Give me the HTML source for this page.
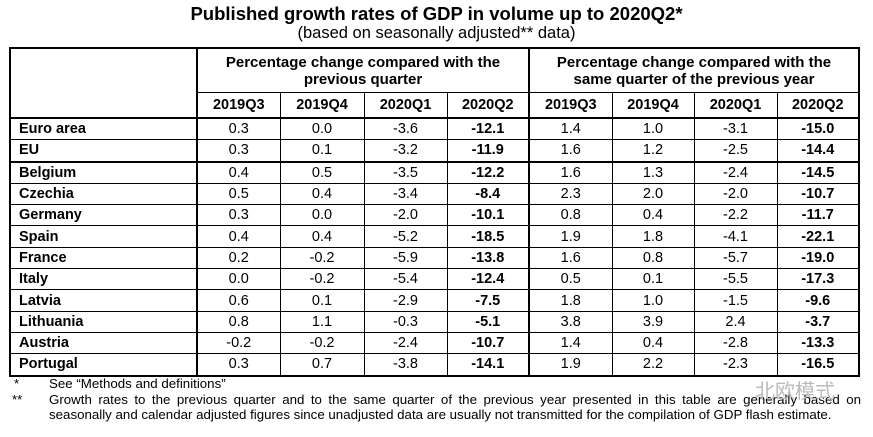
<!DOCTYPE html>
<html><head><meta charset="utf-8"><style>
body{margin:0;width:873px;height:437px;background:#fff;font-family:"Liberation Sans",Arial,sans-serif;color:#000;position:relative;overflow:hidden}
.t{position:absolute;left:0;width:873px;text-align:center}
#title{top:3px;font-size:18.5px;font-weight:bold}
#sub{top:24px;font-size:16.5px}
table{position:absolute;left:9px;top:47px;border-collapse:collapse;table-layout:fixed;border:2px solid #000;font-size:14.5px}
td,th{border:1px solid #000;padding:0;text-align:center;overflow:hidden;white-space:nowrap}
th{font-weight:bold;font-size:14.5px}
.grp{height:43px;line-height:17px;font-size:15px}
.yr{height:24px}
tr.d td{height:20.3px;line-height:20px}
td.c{text-align:left;padding-left:8px;font-weight:bold;border-right:2px solid #000}
.b{font-weight:bold}
.sep{border-left:2px solid #000}
.hb td,.hb th{border-bottom:2px solid #000}
.fn{position:absolute;font-size:13.3px;line-height:15px}
</style></head><body>
<div class="t" id="title">Published growth rates of GDP in volume up to 2020Q2*</div>
<div class="t" id="sub">(based on seasonally adjusted** data)</div>
<table>
<colgroup><col style="width:187px"><col style="width:83px"><col style="width:84px"><col style="width:83px"><col style="width:82px"><col style="width:83px"><col style="width:82px"><col style="width:83px"><col style="width:82px"></colgroup>
<tr><th rowspan="2" style="border-right:2px solid #000;border-bottom:2px solid #000"></th><th colspan="4" class="grp">Percentage change compared with the<br>previous quarter</th><th colspan="4" class="grp sep">Percentage change compared with the<br>same quarter of the previous year</th></tr>
<tr class="hb"><th class="yr">2019Q3</th><th>2019Q4</th><th>2020Q1</th><th>2020Q2</th><th class="sep">2019Q3</th><th>2019Q4</th><th>2020Q1</th><th>2020Q2</th></tr>
<tr class="d"><td class="c">Euro area</td><td>0.3</td><td>0.0</td><td>-3.6</td><td class="b">-12.1</td><td class="sep">1.4</td><td>1.0</td><td>-3.1</td><td class="b">-15.0</td></tr>
<tr class="d hb"><td class="c">EU</td><td>0.3</td><td>0.1</td><td>-3.2</td><td class="b">-11.9</td><td class="sep">1.6</td><td>1.2</td><td>-2.5</td><td class="b">-14.4</td></tr>
<tr class="d"><td class="c">Belgium</td><td>0.4</td><td>0.5</td><td>-3.5</td><td class="b">-12.2</td><td class="sep">1.6</td><td>1.3</td><td>-2.4</td><td class="b">-14.5</td></tr>
<tr class="d"><td class="c">Czechia</td><td>0.5</td><td>0.4</td><td>-3.4</td><td class="b">-8.4</td><td class="sep">2.3</td><td>2.0</td><td>-2.0</td><td class="b">-10.7</td></tr>
<tr class="d"><td class="c">Germany</td><td>0.3</td><td>0.0</td><td>-2.0</td><td class="b">-10.1</td><td class="sep">0.8</td><td>0.4</td><td>-2.2</td><td class="b">-11.7</td></tr>
<tr class="d"><td class="c">Spain</td><td>0.4</td><td>0.4</td><td>-5.2</td><td class="b">-18.5</td><td class="sep">1.9</td><td>1.8</td><td>-4.1</td><td class="b">-22.1</td></tr>
<tr class="d"><td class="c">France</td><td>0.2</td><td>-0.2</td><td>-5.9</td><td class="b">-13.8</td><td class="sep">1.6</td><td>0.8</td><td>-5.7</td><td class="b">-19.0</td></tr>
<tr class="d"><td class="c">Italy</td><td>0.0</td><td>-0.2</td><td>-5.4</td><td class="b">-12.4</td><td class="sep">0.5</td><td>0.1</td><td>-5.5</td><td class="b">-17.3</td></tr>
<tr class="d"><td class="c">Latvia</td><td>0.6</td><td>0.1</td><td>-2.9</td><td class="b">-7.5</td><td class="sep">1.8</td><td>1.0</td><td>-1.5</td><td class="b">-9.6</td></tr>
<tr class="d"><td class="c">Lithuania</td><td>0.8</td><td>1.1</td><td>-0.3</td><td class="b">-5.1</td><td class="sep">3.8</td><td>3.9</td><td>2.4</td><td class="b">-3.7</td></tr>
<tr class="d"><td class="c">Austria</td><td>-0.2</td><td>-0.2</td><td>-2.4</td><td class="b">-10.7</td><td class="sep">1.4</td><td>0.4</td><td>-2.8</td><td class="b">-13.3</td></tr>
<tr class="d"><td class="c">Portugal</td><td>0.3</td><td>0.7</td><td>-3.8</td><td class="b">-14.1</td><td class="sep">1.9</td><td>2.2</td><td>-2.3</td><td class="b">-16.5</td></tr>
</table>
<div class="fn" style="left:14px;top:376px">*</div>
<div class="fn" style="left:49px;top:376px">See “Methods and definitions”</div>
<div class="fn" style="left:12px;top:392px">**</div>
<div class="fn" style="left:49px;top:392px;width:812px;text-align:justify;text-align-last:justify;white-space:nowrap">Growth rates to the previous quarter and to the same quarter of the previous year presented in this table are generally based on</div>
<div class="fn" style="left:49px;top:407px">seasonally and calendar adjusted figures since unadjusted data are usually not transmitted for the compilation of GDP flash estimate.</div>
<div class="fn" style="left:755px;top:385px;font-size:20px;color:#bbb;font-family:'Liberation Sans','Noto Sans CJK SC',sans-serif">北欧模式</div>
</body></html>
